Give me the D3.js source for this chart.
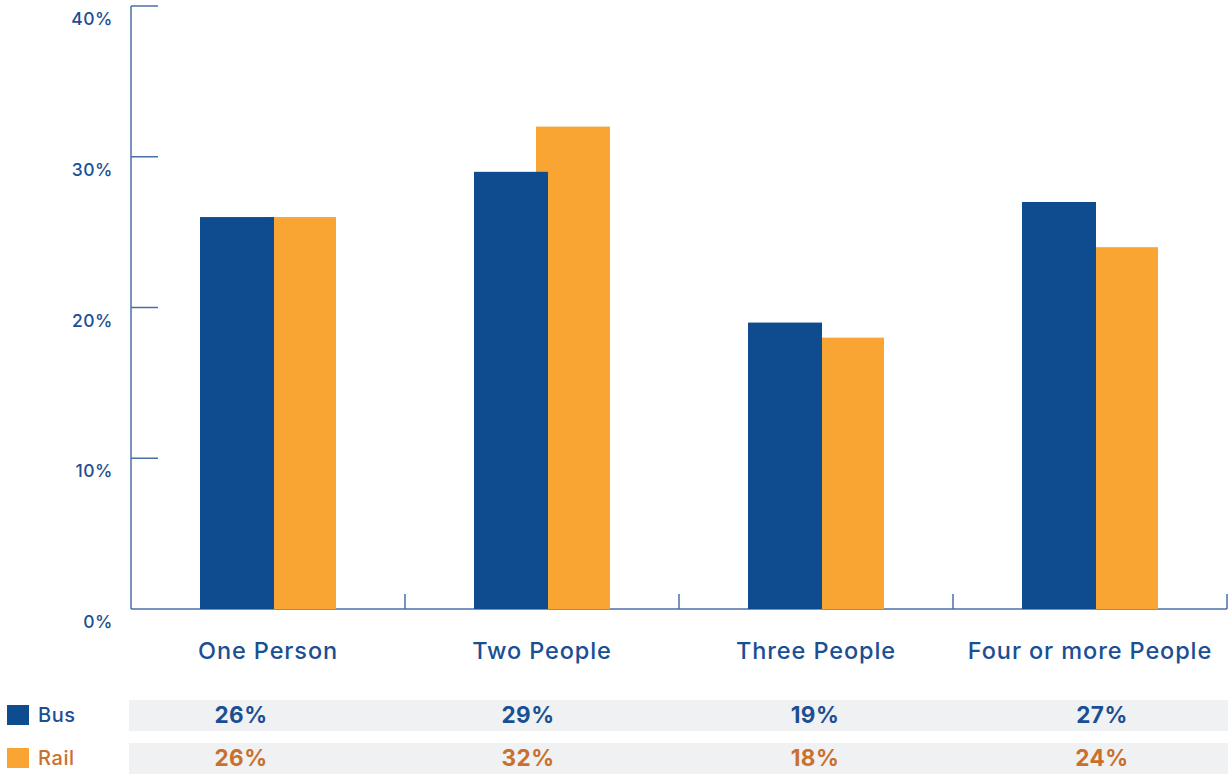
<!DOCTYPE html>
<html><head><meta charset="utf-8">
<script src="https://cdn.jsdelivr.net/npm/d3@7"></script>
<style>body{margin:0;background:#fff}svg{display:block}text{font-family:Inter,"DejaVu Sans",sans-serif}</style>
</head><body>
<svg id="c" width="1228" height="774"></svg>
<script>
const categories = ["One Person","Two People","Three People","Four or more People"];
const series = ["Bus","Rail"];
const busValues = [26,29,19,27];
const railValues = [26,32,18,24];
const yTicks = [0,10,20,30,40];

const blue = "#0f4c8f", orange = "#f9a533", blueText = "#1b4f93", orangeText = "#c8702c", axisCol = "#4a6fa8";
const svg = d3.select("#c");
const x = d3.scaleBand().domain(categories).range([131,1227]).padding(0);
const xt = d3.scaleBand().domain(categories).range([97.5,1245.5]).padding(0);
const y = d3.scaleLinear().domain([0,40]).range([609,6]);
const barW = 74, offset = 62;

svg.append("line").attr("x1",131).attr("x2",131).attr("y1",y(40)).attr("y2",y(0)).attr("stroke",axisCol).attr("stroke-width",1.5);
svg.append("line").attr("x1",131).attr("x2",1227).attr("y1",y(0)).attr("y2",y(0)).attr("stroke",axisCol).attr("stroke-width",1.5);
yTicks.filter(t=>t>0).forEach(t=>{
  svg.append("line").attr("x1",131).attr("x2",158).attr("y1",y(t)).attr("y2",y(t)).attr("stroke",axisCol).attr("stroke-width",1.5);
});
svg.selectAll(".yl").data(yTicks).join("text").attr("x",113).attr("y",t=>y(t)+19)
  .attr("text-anchor","end").attr("font-size",17.5).attr("letter-spacing",0.5).attr("font-weight",500).attr("fill",blueText).text(t=>t+"%");
categories.forEach((c,i)=>{
  const xe = x(c)+x.bandwidth();
  svg.append("line").attr("x1",xe).attr("x2",xe).attr("y1",y(0)-15).attr("y2",y(0)).attr("stroke",axisCol).attr("stroke-width",1.5);
});

const g = svg.append("g");
categories.forEach((c,i)=>{
  const cx = x(c)+x.bandwidth()/2;
  const start = cx - (barW+offset)/2;
  g.append("rect").attr("x",start+offset).attr("y",y(railValues[i])).attr("width",barW).attr("height",y(0)-y(railValues[i])).attr("fill",orange);
  g.append("rect").attr("x",start).attr("y",y(busValues[i])).attr("width",barW).attr("height",y(0)-y(busValues[i])).attr("fill",blue);
});
svg.selectAll(".cl").data(categories).join("text").attr("x",c=>x(c)+x.bandwidth()/2).attr("y",659)
  .attr("text-anchor","middle").attr("font-size",23.5).attr("letter-spacing",0.9).attr("font-weight",500).attr("fill",blueText).text(c=>c);

const rows = [{name:"Bus",vals:busValues,col:blue,tcol:blueText,top:700},{name:"Rail",vals:railValues,col:orange,tcol:orangeText,top:743}];
rows.forEach(r=>{
  svg.append("rect").attr("x",129).attr("y",r.top).attr("width",1228-129).attr("height",31).attr("fill","#f0f1f3");
  svg.append("rect").attr("x",7).attr("y",r.top+5).attr("width",22).attr("height",20).attr("fill",r.col);
  svg.append("text").attr("x",38).attr("y",r.top+22).attr("font-size",20).attr("letter-spacing",0.6).attr("font-weight",500).attr("fill",r.tcol).text(r.name);
  svg.selectAll(null).data(r.vals).join("text").attr("x",(d,i)=>xt(categories[i])+xt.bandwidth()/2).attr("y",r.top+23.3)
    .attr("text-anchor","middle").attr("font-size",22.5).attr("letter-spacing",0.5).attr("font-weight",700).attr("fill",r.tcol).text(d=>d+"%");
});
</script>
</body></html>
